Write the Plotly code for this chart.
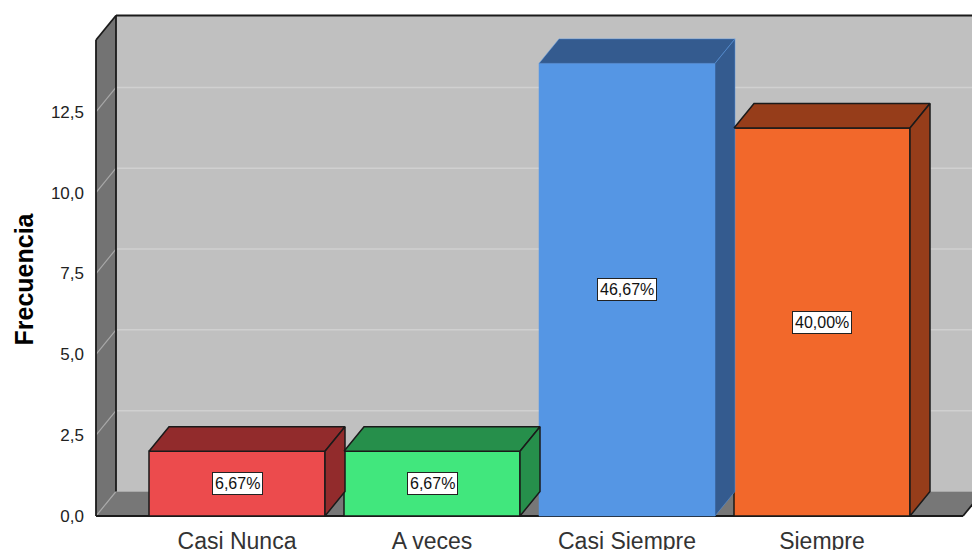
import plotly.graph_objects as go

# ---- data ----
categorias = ["Casi Nunca", "A veces", "Casi Siempre", "Siempre"]
frecuencias = [2, 2, 14, 12]
ticks_y = [0, 2.5, 5, 7.5, 10, 12.5]
etiquetas_y = ["0,0", "2,5", "5,0", "7,5", "10,0", "12,5"]

# ---- styles ----
color_frente = ["#EC4B4D", "#41E77D", "#5596E4", "#F2682B"]
color_sombra = ["#922B2C", "#268F4B", "#345B8F", "#963D1A"]
color_borde = ["#1a1a1a", "#1a1a1a", "#5596E4", "#1a1a1a"]
ancho_borde = [1.5, 1.5, 0.5, 1.5]

FONT = "Arial, 'Liberation Sans', sans-serif"
W, H = 972, 550
ML, MR, MT, MB = 90, 0, 0, 30

# pixel geometry of the 3-D frame
PX_CAT = 195.0       # pixels between category centres
X0_PIX = 237.0       # pixel x of first category centre
PX_UNIT = 32.33      # pixels per unit of frequency
Y0_PIX = 516.0       # pixel y of value 0 (front plane)
BAR_W = 176.0 / PX_CAT
DX = 20.0 / PX_CAT   # depth offset, x (category units)
DY = 24.5 / PX_UNIT  # depth offset, y (value units)

x_rango = [(ML - X0_PIX) / PX_CAT, (W - MR - X0_PIX) / PX_CAT]
y_rango = [(Y0_PIX - (H - MB)) / PX_UNIT, (Y0_PIX - MT) / PX_UNIT]

xL = (96 - X0_PIX) / PX_CAT          # front-left edge of the frame
xF = (963 - X0_PIX) / PX_CAT         # front-right edge of the floor
xR = x_rango[1] + 1                  # back wall runs off the right side
TOP = (Y0_PIX - 40) / PX_UNIT        # height of the frame (front)

BACK = "#C0C0C0"
SIDE = "#737373"
FLOOR = "#777777"
EDGE = "#1a1a1a"

shapes = []


def poly(pts, fill, line_color=None, lw=0):
    path = "M " + " L ".join(f"{x},{y}" for x, y in pts) + " Z"
    shapes.append(dict(type="path", xref="x", yref="y", path=path,
                       fillcolor=fill, layer="below",
                       line=dict(color=line_color or fill, width=lw)))


def seg(x0, y0, x1, y1, color, lw):
    shapes.append(dict(type="line", xref="x", yref="y", x0=x0, y0=y0,
                       x1=x1, y1=y1, layer="below",
                       line=dict(color=color, width=lw)))


# back wall and its gridlines
poly([(xL + DX, DY), (xR, DY), (xR, TOP + DY), (xL + DX, TOP + DY)], BACK)
for t in ticks_y[1:]:
    seg(xL + DX, t + DY, xR, t + DY, "#D0D0D0", 1.5)
# floor
poly([(xL, 0), (xF, 0), (xF + DX, DY), (xL + DX, DY)], FLOOR)
# left wall
poly([(xL, 0), (xL, TOP), (xL + DX, TOP + DY), (xL + DX, DY)], SIDE)
for t in ticks_y:
    seg(xL, t, xL + DX, t + DY, "#A8A8A8", 1.2)
# frame edges
seg(xL, 0, xL, TOP, EDGE, 1.8)
seg(xL, TOP, xL + DX, TOP + DY, EDGE, 1.8)
seg(xL + DX, TOP + DY, xR, TOP + DY, EDGE, 1.8)
seg(xL + DX, DY, xL + DX, TOP + DY, EDGE, 1.8)
seg(xL, 0, xF, 0, EDGE, 1.8)
seg(xF, 0, xF + DX, DY, EDGE, 1.8)

fig = go.Figure()

# front faces of the bars
fig.add_trace(go.Bar(
    x=list(range(len(categorias))), y=frecuencias, width=BAR_W,
    marker=dict(color=color_frente,
                line=dict(color=color_borde, width=ancho_borde)),
    hoverinfo="skip", showlegend=False,
))

# top and side faces of the bars
for i, v in enumerate(frecuencias):
    x0, x1 = i - BAR_W / 2, i + BAR_W / 2
    top = [(x0, v), (x1, v), (x1 + DX, v + DY), (x0 + DX, v + DY), (x0, v)]
    side = [(x1, 0), (x1, v), (x1 + DX, v + DY), (x1 + DX, DY), (x1, 0)]
    for face in (top, side):
        fig.add_trace(go.Scatter(
            x=[p[0] for p in face], y=[p[1] for p in face],
            mode="lines", fill="toself", fillcolor=color_sombra[i],
            line=dict(color=color_borde[i], width=ancho_borde[i]),
            hoverinfo="skip", showlegend=False,
        ))

total = sum(frecuencias)
annotations = []
for i, v in enumerate(frecuencias):
    pct = f"{v / total * 100:.2f}%".replace(".", ",")
    annotations.append(dict(
        x=i, y=v / 2, xref="x", yref="y", text=pct, showarrow=False,
        font=dict(family=FONT, size=16, color="#111111"),
        bgcolor="#FFFFFF", bordercolor="#222222", borderwidth=1, borderpad=2,
    ))

plot_w = W - ML - MR
plot_h = H - MT - MB
annotations.append(dict(
    text="<b>Frecuencia</b>", textangle=-90, showarrow=False,
    xref="paper", yref="paper",
    x=(23 - ML) / plot_w, y=((H - MB) - 279.5) / plot_h,
    xanchor="center", yanchor="middle",
    font=dict(family=FONT, size=25, color="#000000"),
))

fig.update_layout(
    width=W, height=H,
    margin=dict(l=ML, r=MR, t=MT, b=MB, pad=0),
    paper_bgcolor="#FFFFFF", plot_bgcolor="#FFFFFF",
    shapes=shapes, annotations=annotations,
    xaxis=dict(range=x_rango, tickvals=list(range(len(categorias))),
               ticktext=categorias, showgrid=False, zeroline=False,
               showline=False, ticks="", ticklabelstandoff=5,
               automargin=False,
               tickfont=dict(family=FONT, size=23, color="#333333"),
               fixedrange=True),
    yaxis=dict(range=y_rango, tickvals=ticks_y, ticktext=etiquetas_y,
               showgrid=False, zeroline=False, showline=False, ticks="",
               ticklabelstandoff=5, automargin=False,
               tickfont=dict(family=FONT, size=17, color="#222222"),
               fixedrange=True),
)

fig.write_html("out.html")
